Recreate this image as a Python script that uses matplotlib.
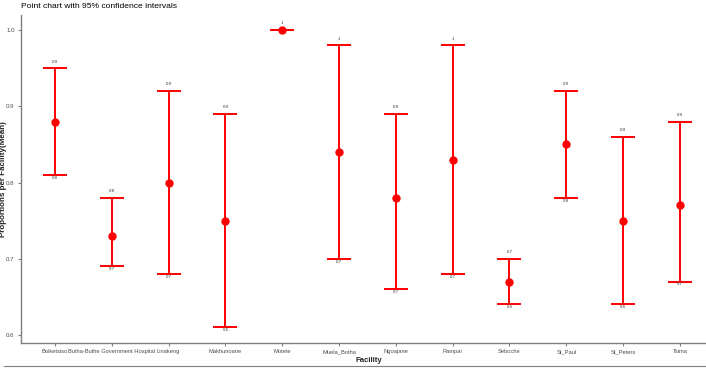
import numpy as np
import matplotlib
matplotlib.use("Agg")
import matplotlib.pyplot as plt
from matplotlib import font_manager

# -------------------------------
# Data
# -------------------------------
facilities = ["Boiketsiso", "Butha-Buthe Government Hospital", "Linakeng", "Makhunoane",
              "Motete", "Muela_Botha", "Ngoajane", "Rampai", "Seboche", "St_Paul",
              "St_Peters", "Tsima"]
means = [0.88, 0.73, 0.80, 0.75, 1.00, 0.84, 0.78, 0.83, 0.67, 0.85, 0.75, 0.77]
upper = [0.95, 0.78, 0.92, 0.89, 1.00, 0.98, 0.89, 0.98, 0.70, 0.92, 0.86, 0.88]
lower = [0.81, 0.69, 0.68, 0.61, 1.00, 0.70, 0.66, 0.68, 0.64, 0.78, 0.64, 0.67]
upper_labels = ["0.9", "0.8", "0.9", "0.9", "1", "1", "0.9", "1", "0.7", "0.9", "0.9", "0.9"]
lower_labels = ["0.8", "0.7", "0.7", "0.6", "", "0.7", "0.7", "0.7", "0.6", "0.8", "0.6", "0.7"]

# the reference text is narrow; use a narrow face if one is installed
installed = {f.name for f in font_manager.fontManager.ttflist}
if 'Liberation Sans Narrow' in installed:
    plt.rcParams['font.family'] = ['Liberation Sans Narrow', 'DejaVu Sans']
    scale = 1.0
else:
    plt.rcParams['font.family'] = ['Liberation Sans', 'DejaVu Sans']
    scale = 0.8

fig = plt.figure(figsize=(7.06, 3.68), dpi=100)
ax = fig.add_axes([21/706, 25/368, 685/706, 328/368])

x = np.arange(len(facilities))
yerr = [np.array(means) - np.array(lower), np.array(upper) - np.array(means)]
ax.errorbar(x, means, yerr=yerr, fmt='o', color='red', ecolor='red',
            elinewidth=1.4, capsize=8.6, capthick=1.4, markersize=5, zorder=3)

# small value labels at the ends of the intervals
for xi, u, l, ul, ll in zip(x, upper, lower, upper_labels, lower_labels):
    ax.text(xi, u + 0.006, ul, ha='center', va='bottom', fontsize=3.2, color='#333333')
    if ll:
        ax.text(xi, l - 0.001, ll, ha='center', va='top', fontsize=3.2, color='#333333')

ax.set_xlim(-0.6, 11.46)
ax.set_ylim(0.5895, 1.0197)
ax.set_xticks(x)
ax.set_xticklabels(facilities, fontsize=5.2 * scale, color='#4d4d4d')
ax.set_yticks([0.6, 0.7, 0.8, 0.9, 1.0])
ax.set_yticklabels(["0.6", "0.7", "0.8", "0.9", "1.0"], fontsize=5.5 * scale, color='#4d4d4d')
ax.tick_params(axis='both', length=2.5, width=0.8, color='#808080', pad=2)

for side in ['top', 'right']:
    ax.spines[side].set_visible(False)
for side in ['left', 'bottom']:
    ax.spines[side].set_color('#808080')
    ax.spines[side].set_linewidth(1.0)

fig.text(4/706, 1 - 179/368, "Proportions per Facility(Mean)", rotation=90, fontsize=5.8,
         fontweight='bold', color='#222222', ha='center', va='center')
fig.text(355/706, 1 - 361/368, "Facility", fontsize=7 * scale, fontweight='bold', color='#222222',
         va='center', ha='left')
fig.text(21/706, 1 - 6/368, "Point chart with 95% confidence intervals", fontsize=7.6 * scale,
         color='black', va='center', ha='left')

# thin grey rule along the bottom edge, as in the screenshot
fig.add_artist(plt.Line2D([0.005, 1.0], [1 - 366/368, 1 - 366/368], color='#808080', lw=0.8))

fig.savefig("out.png", dpi=100)
